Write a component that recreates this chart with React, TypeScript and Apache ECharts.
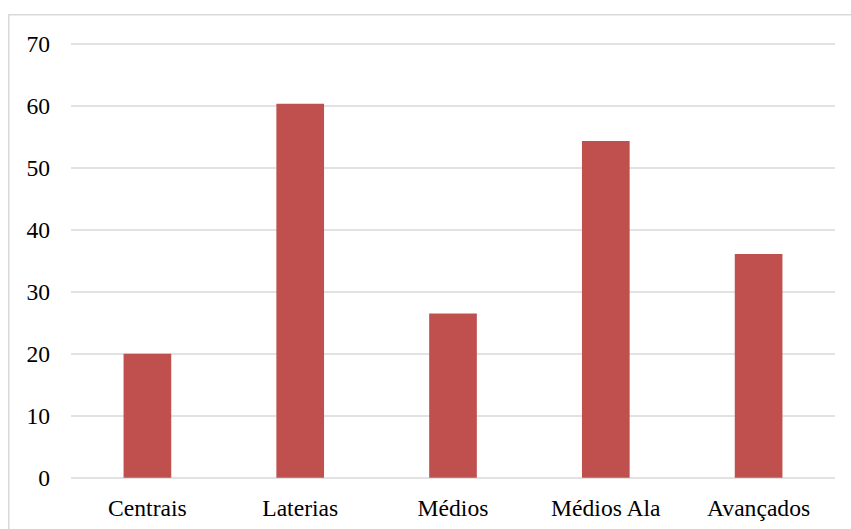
import React, { useEffect, useRef } from "react";
import * as echarts from "echarts";

const categories = ["Centrais", "Laterias", "Médios", "Médios Ala", "Avançados"];
const values = [20, 60.3, 26.5, 54.3, 36.1];
const yTicks = [0, 10, 20, 30, 40, 50, 60, 70];

export default function App() {
  const ref = useRef<HTMLDivElement>(null);
  useEffect(() => {
    if (!ref.current) return;
    const chart = echarts.init(ref.current, null, { renderer: "svg" });
    const font = "Liberation Serif";
    chart.setOption({
      animation: false,
      backgroundColor: "#ffffff",
      grid: { left: 71, right: 16, top: 43.7, bottom: 51.3, containLabel: false },
      graphic: [
        {
          type: "rect",
          shape: { x: 8.75, y: 14.75, width: 900, height: 600 },
          style: { fill: "none", stroke: "#d9d9d9", lineWidth: 1.5 },
          silent: true,
          z: -1,
        },
      ],
      xAxis: {
        type: "category",
        data: categories,
        axisLine: { show: false },
        axisTick: { show: false },
        axisLabel: { color: "#000000", fontFamily: font, fontSize: 23.6, margin: 18 },
      },
      yAxis: {
        type: "value",
        min: yTicks[0],
        max: yTicks[yTicks.length - 1],
        interval: 10,
        axisLine: { show: false },
        axisTick: { show: false },
        axisLabel: { color: "#000000", fontFamily: font, fontSize: 23.6, margin: 21 },
        splitLine: { lineStyle: { color: "#d9d9d9", width: 1.5 } },
      },
      series: [
        {
          type: "bar",
          data: values,
          barWidth: "31.2%",
          itemStyle: { color: "#C0504D" },
        },
      ],
    });
    return () => chart.dispose();
  }, []);
  return (
    <div
      ref={ref}
      style={{ position: "fixed", left: 0, top: 0, width: 851, height: 529 }}
    />
  );
}
